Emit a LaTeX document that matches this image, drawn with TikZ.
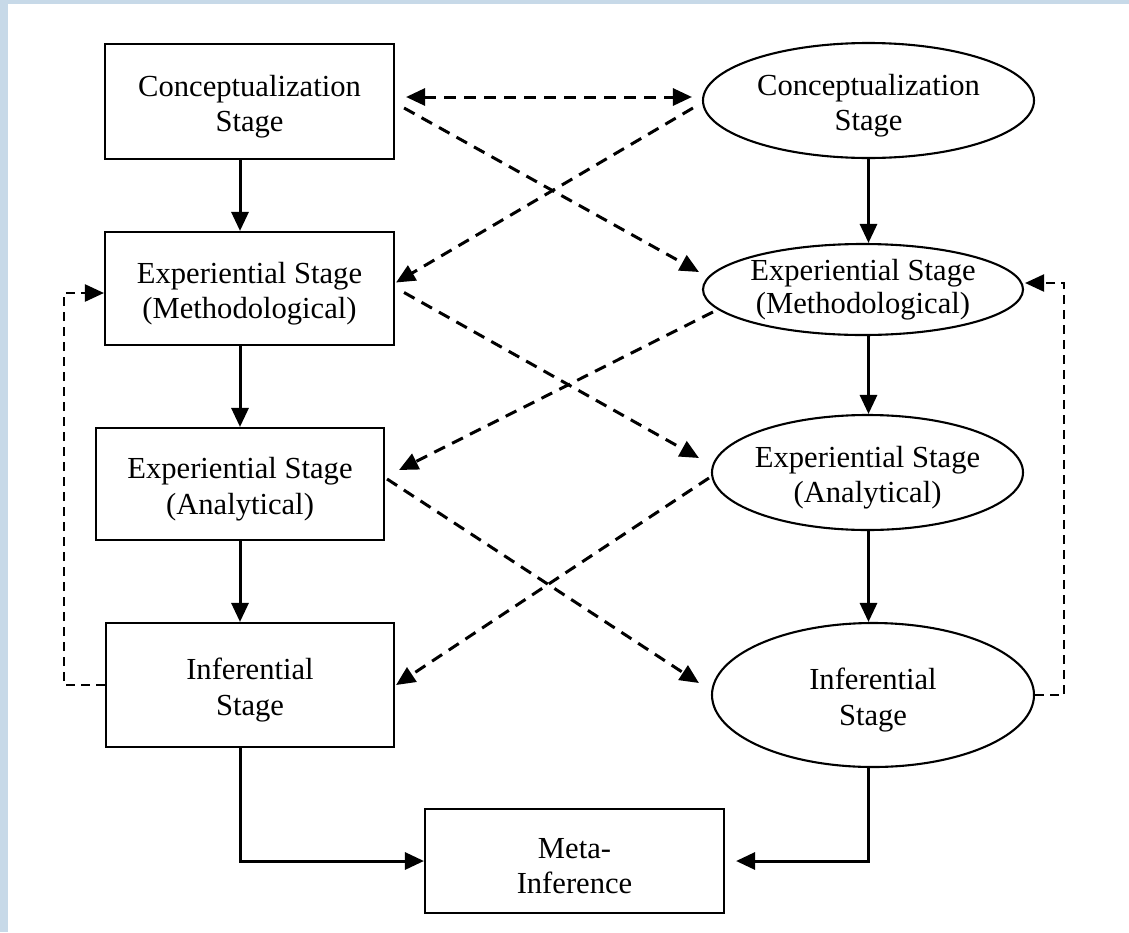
\documentclass[tikz,border=0pt]{standalone}
\usepackage{fontspec}
\setmainfont{Liberation Serif}
\usetikzlibrary{arrows.meta,calc,shapes.geometric}
\definecolor{framblue}{RGB}{199,217,232}
\begin{document}
\begin{tikzpicture}[x=1pt,y=-1pt,
  txt/.style={align=center,inner sep=0pt,font=\fontsize{30.6}{35.5}\selectfont},
  boxnode/.style={draw,line width=2.1pt,rectangle,inner sep=0pt},
  ellnode/.style={draw,line width=2.1pt,ellipse,inner sep=0pt},
  words/.style={label={[txt,yshift=-5pt]center:{#1}}},
  tightwords/.style={label={[txt,yshift=0pt,font=\fontsize{30.6}{33.5}\selectfont]center:{#1}}},
  tip/.style={-{Triangle[length=19pt,width=17pt]}},
  solidarrow/.style={line width=3pt,tip},
  dasharrow/.style={line width=3pt,dash pattern=on 12pt off 8pt,tip},
  dashboth/.style={line width=3pt,dash pattern=on 12pt off 8pt,{Triangle[length=19pt,width=17pt]}-{Triangle[length=19pt,width=17pt]}},
  feedback/.style={line width=2.3pt,dash pattern=on 9pt off 6pt,tip}
]
\useasboundingbox (0,0) rectangle (1129,932);
\fill[framblue] (0,0) rectangle (8,932);
\fill[framblue] (0,0) rectangle (1129,4);

% left column
\node[boxnode,minimum width=289pt,minimum height=115pt,words={Conceptualization\\Stage}] (r1) at (249.5,101.5) {};
\node[boxnode,minimum width=289pt,minimum height=113pt,words={Experiential Stage\\(Methodological)}] (r2) at (249.5,288.5) {};
\node[boxnode,minimum width=288pt,minimum height=112pt,words={Experiential Stage\\(Analytical)}] (r3) at (240,484) {};
\node[boxnode,minimum width=288pt,minimum height=124pt,words={Inferential\\Stage}] (r4) at (250,685) {};
\node[boxnode,minimum width=299pt,minimum height=104pt,words={Meta-\\Inference}] (meta) at (574.5,861) {};

% right column
\node[ellnode,minimum width=331pt,minimum height=115pt,words={Conceptualization\\Stage}] (e1) at (868.5,100.5) {};
\node[ellnode,minimum width=320pt,minimum height=91pt,tightwords={Experiential Stage\\(Methodological)}] (e2) at (863,289.5) {};
\node[ellnode,minimum width=311pt,minimum height=115pt,words={Experiential Stage\\(Analytical)}] (e3) at (867.5,472.5) {};
\node[ellnode,minimum width=322pt,minimum height=144pt,words={Inferential\\Stage}] (e4) at (873,695) {};

% solid vertical arrows, left
\draw[solidarrow] (r3.north |- r1.south) -- (r3.north |- r2.north);
\draw[solidarrow] (r3.north |- r2.south) -- (r3.north);
\draw[solidarrow] (r3.south) -- (r3.south |- r4.north);
\draw[solidarrow] (r3.south |- r4.south) |- (meta.west);

% solid vertical arrows, right
\draw[solidarrow] (e1.south) -- (e1.south |- e2.north);
\draw[solidarrow] (e1.south |- e2.south) -- (e1.south |- e3.north);
\draw[solidarrow] (e1.south |- e3.south) -- (e1.south |- e4.north);
\draw[solidarrow] (e1.south |- e4.south) |- ($(meta.east)+(11,0)$);

% dashed cross links
\draw[dashboth] ($(r1.east)+(11,-4.5)$) -- ($(e1.west)+(-10,-3.5)$);
\draw[dasharrow] ($(r1.east)+(9,6.5)$) -- ($(e2.west)+(-3,-17.5)$);
\draw[dasharrow] ($(e1.west)+(-9,7.5)$) -- ($(r2.east)+(1,-6)$);
\draw[dasharrow] ($(r2.east)+(9,4)$) -- ($(e3.west)+(-12,-14.5)$);
\draw[dasharrow] ($(e2.west)+(11,22.5)$) -- ($(r3.east)+(14,-14)$);
\draw[dasharrow] ($(r3.east)+(2,-5)$) -- ($(e4.west)+(-12,-12)$);
\draw[dasharrow] ($(e3.west)+(-2,5.5)$) -- ($(r4.east)+(1,0)$);

% feedback loops
\draw[feedback] (r4.west) -- ++(-41,0) |- ($(r2.west)+(0,4.5)$);
\draw[feedback] (e4.east) -- ++(29,0) |- ($(e2.east)+(1,-6.5)$);
\end{tikzpicture}
\end{document}
